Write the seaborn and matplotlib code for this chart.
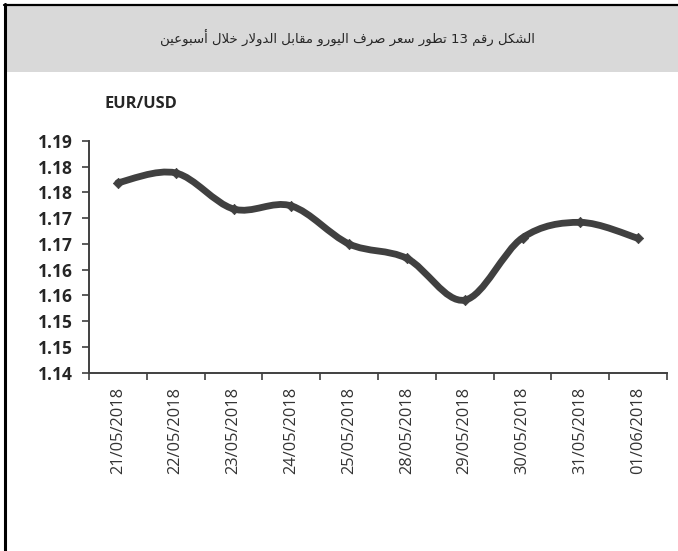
import re

import matplotlib

matplotlib.use("Agg")
import matplotlib.pyplot as plt
import numpy as np
import pandas as pd
import seaborn as sns
from matplotlib.lines import Line2D
from matplotlib.patches import PathPatch, Rectangle
from matplotlib.path import Path
from matplotlib.ticker import FixedLocator

# --- data ---
DATES = [
    "21/05/2018", "22/05/2018", "23/05/2018", "24/05/2018", "25/05/2018",
    "28/05/2018", "29/05/2018", "30/05/2018", "31/05/2018", "01/06/2018",
]
RATES = [1.1769, 1.1788, 1.1718, 1.1724, 1.1650, 1.1622, 1.1541, 1.1662, 1.1692, 1.1661]

Y_TICKS = [1.140, 1.145, 1.150, 1.155, 1.160, 1.165, 1.170, 1.175, 1.180, 1.185]
Y_TICK_LABELS = ["1.14", "1.15", "1.15", "1.16", "1.16", "1.17", "1.17", "1.18", "1.18", "1.19"]

TITLE = "الشكل رقم 13 تطور سعر صرف اليورو مقابل الدولار خلال أسبوعين"
SERIES_LABEL = "EUR/USD"

# --- style ---
W, H = 678, 551
LINE_COLOR = "#404040"
TEXT_COLOR = "#262626"
BAND_COLOR = "#d9d9d9"

# Arabic presentation forms: isolated, final, initial, medial
FORMS = {
    "ا": (0xFE8D, 0xFE8E, None, None),
    "أ": (0xFE83, 0xFE84, None, None),
    "د": (0xFEA9, 0xFEAA, None, None),
    "ر": (0xFEAD, 0xFEAE, None, None),
    "و": (0xFEED, 0xFEEE, None, None),
    "ب": (0xFE8F, 0xFE90, 0xFE91, 0xFE92),
    "ت": (0xFE95, 0xFE96, 0xFE97, 0xFE98),
    "خ": (0xFEA5, 0xFEA6, 0xFEA7, 0xFEA8),
    "س": (0xFEB1, 0xFEB2, 0xFEB3, 0xFEB4),
    "ش": (0xFEB5, 0xFEB6, 0xFEB7, 0xFEB8),
    "ص": (0xFEB9, 0xFEBA, 0xFEBB, 0xFEBC),
    "ط": (0xFEC1, 0xFEC2, 0xFEC3, 0xFEC4),
    "ع": (0xFEC9, 0xFECA, 0xFECB, 0xFECC),
    "ف": (0xFED1, 0xFED2, 0xFED3, 0xFED4),
    "ق": (0xFED5, 0xFED6, 0xFED7, 0xFED8),
    "ك": (0xFED9, 0xFEDA, 0xFEDB, 0xFEDC),
    "ل": (0xFEDD, 0xFEDE, 0xFEDF, 0xFEE0),
    "م": (0xFEE1, 0xFEE2, 0xFEE3, 0xFEE4),
    "ن": (0xFEE5, 0xFEE6, 0xFEE7, 0xFEE8),
    "ي": (0xFEF1, 0xFEF2, 0xFEF3, 0xFEF4),
}
LAM_ALEF = {"ا": (0xFEFB, 0xFEFC), "أ": (0xFEF7, 0xFEF8)}


def shape_arabic(text):
    """Join the letters by hand and put them in visual order (no shaping in Agg)."""
    out = []
    i = 0
    while i < len(text):
        c = text[i]
        if c not in FORMS:
            out.append(c)
            i += 1
            continue
        prev = text[i - 1] if i > 0 else ""
        joins_prev = prev in FORMS and FORMS[prev][2] is not None
        nxt = text[i + 1] if i + 1 < len(text) else ""
        if c == "ل" and nxt in LAM_ALEF:
            iso, fin = LAM_ALEF[nxt]
            out.append(chr(fin if joins_prev else iso))
            i += 2
            continue
        joins_next = FORMS[c][2] is not None and nxt in FORMS
        iso, fin, ini, med = FORMS[c]
        if joins_prev and joins_next:
            code = med
        elif joins_prev:
            code = fin
        elif joins_next:
            code = ini
        else:
            code = iso
        out.append(chr(code))
        i += 1
    visual = "".join(out)[::-1]
    return re.sub(r"\d+", lambda m: m.group(0)[::-1], visual)


def smooth_path(xs, ys):
    """Bezier path through the points, like a spreadsheet 'smoothed line'."""
    pts = np.column_stack([xs, ys])
    n = len(pts)
    verts = [pts[0]]
    codes = [Path.MOVETO]
    for i in range(n - 1):
        p0 = pts[max(i - 1, 0)]
        p1 = pts[i]
        p2 = pts[i + 1]
        p3 = pts[min(i + 2, n - 1)]
        verts += [p1 + (p2 - p0) / 6, p2 - (p3 - p1) / 6, p2]
        codes += [Path.CURVE4] * 3
    return Path(verts, codes)


def main():
    sns.set_theme(style="white")
    plt.rcParams["font.family"] = ["Open Sans", "DejaVu Sans"]

    df = pd.DataFrame({"date": DATES, "rate": RATES})
    df["pos"] = np.arange(len(df))

    fig = plt.figure(figsize=(W / 100, H / 100), dpi=100)
    fig.patch.set_facecolor("white")

    # header band and frame
    fig.add_artist(Rectangle((5 / W, 1 - 72 / H), 1, 67 / H, transform=fig.transFigure,
                             facecolor=BAND_COLOR, edgecolor="none", zorder=0))
    fig.add_artist(Line2D([4.5 / W, 4.5 / W], [0, 1 - 4 / H], transform=fig.transFigure,
                          color="black", linewidth=2.2))
    fig.add_artist(Line2D([3.5 / W, 1], [1 - 5 / H, 1 - 5 / H], transform=fig.transFigure,
                          color="black", linewidth=1.6))

    fig.text(347 / W, 1 - 38 / H, shape_arabic(TITLE), ha="center", va="center",
             fontsize=9.5, color=TEXT_COLOR, family=["DejaVu Sans"])
    fig.text(105 / W, 1 - 104 / H, SERIES_LABEL, ha="left", va="center",
             fontsize=11.8, fontweight="bold", color=TEXT_COLOR)

    ax = fig.add_axes([89 / W, 1 - 372.7 / H, 578 / W, 231.7 / H])
    ax.set_facecolor("none")

    ax.add_patch(PathPatch(smooth_path(df["pos"].values, df["rate"].values),
                           facecolor="none", edgecolor=LINE_COLOR, linewidth=4.9,
                           capstyle="round", joinstyle="round", zorder=3))
    sns.scatterplot(data=df, x="pos", y="rate", marker="D", s=28, color=LINE_COLOR,
                    edgecolor=LINE_COLOR, linewidth=0.5, zorder=4, ax=ax, legend=False)

    ax.set_xlim(-0.5, len(DATES) - 0.5)
    ax.set_ylim(Y_TICKS[0], Y_TICKS[-1])
    ax.set_xlabel("")
    ax.set_ylabel("")

    ax.set_xticks(df["pos"])
    ax.set_xticklabels(DATES, rotation=90, fontsize=11.8, color="#333333")
    ax.xaxis.set_minor_locator(FixedLocator(np.arange(len(DATES) + 1) - 0.5))
    ax.tick_params(axis="x", which="major", length=0, pad=10)
    ax.tick_params(axis="x", which="minor", length=5, width=1.2, color=LINE_COLOR,
                   direction="out", bottom=True)

    ax.set_yticks(Y_TICKS)
    ax.set_yticklabels(Y_TICK_LABELS, fontsize=12.5, fontweight="bold", color=TEXT_COLOR)
    ax.tick_params(axis="y", length=5, width=1.2, color=LINE_COLOR, direction="out",
                   left=True, pad=7)

    for side in ("top", "right"):
        ax.spines[side].set_visible(False)
    for side in ("left", "bottom"):
        ax.spines[side].set_color(LINE_COLOR)
        ax.spines[side].set_linewidth(1.4)
    ax.grid(False)

    fig.savefig("out.png", dpi=100)
    plt.close(fig)


if __name__ == "__main__":
    main()
